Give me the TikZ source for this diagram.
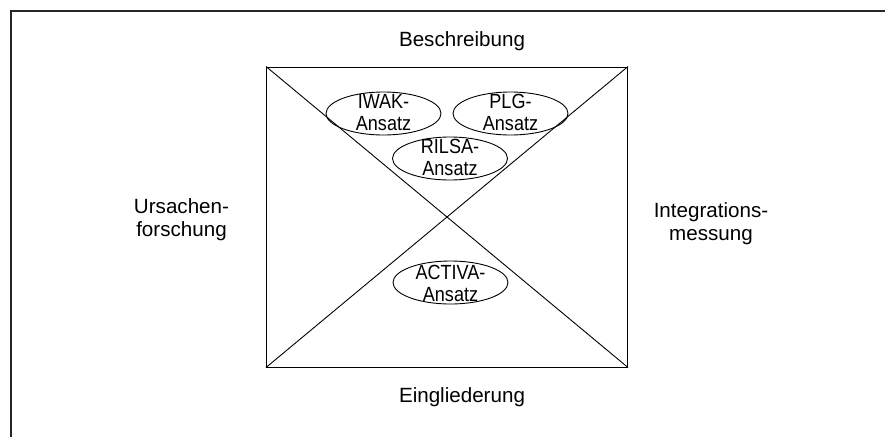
\documentclass[tikz,border=0pt]{standalone}
\usepackage{fontspec}
\setmainfont{Liberation Sans}
\newfontfamily\narrowsans[FakeStretch=0.88]{Liberation Sans}
\usetikzlibrary{shapes.geometric}
\begin{document}
\begin{tikzpicture}[x=1pt,y=-1pt,
  approach/.style={draw, ellipse, line width=0.9pt, minimum width=115pt, minimum height=43pt, inner sep=0pt},
  approachtext/.style={align=center, inner sep=0pt, font=\narrowsans\fontsize{20.5}{22.7}\selectfont},
  side/.style={align=center, font=\fontsize{20.6}{22.7}\selectfont, inner sep=0pt}]
\useasboundingbox (0,0) rectangle (885,437);
% outer frame (continues beyond right and bottom edges)
\coordinate (fbl) at (10.5,437);
\coordinate (ftl) at (10.5,10.5);
\coordinate (ftr) at (885,10.5);
\draw[line width=2pt, color=black!85] (fbl) -- (ftl) -- (ftr);
% central square with diagonals
\node (sq) [draw, line width=1pt, minimum width=361pt, minimum height=300pt, inner sep=0pt] at (447,217) {};
\draw[line width=0.9pt] (sq.north west) -- (sq.south east);
\draw[line width=0.9pt] (sq.north east) -- (sq.south west);
% approaches
\node (iwak) [approach] at (383.5,113.5) {};
\node (plg) [approach] at (510.5,113.5) {};
\node (rilsa) [approach] at (450,158.5) {};
\node (activa) [approach] at (450.5,282.5) {};
\node (iwakt) [approachtext] at ([yshift=1pt]iwak.center) {IWAK-\\Ansatz};
\node (plgt) [approachtext] at ([yshift=1pt]plg.center) {PLG-\\Ansatz};
\node (rilsat) [approachtext] at ([yshift=1pt]rilsa.center) {RILSA-\\Ansatz};
\node (activat) [approachtext] at ([yshift=-1pt]activa.center) {ACTIVA-\\Ansatz};
% side labels
\node (top) [side, anchor=base] at (462,46.5) {Beschreibung};
\node (bottom) [side, anchor=base] at (462,402) {Eingliederung};
\node (left) [side] at (181.5,220) {Ursachen-\\forschung};
\node (right) [side] at (711,223.5) {Integrations-\\messung};
\end{tikzpicture}
\end{document}
